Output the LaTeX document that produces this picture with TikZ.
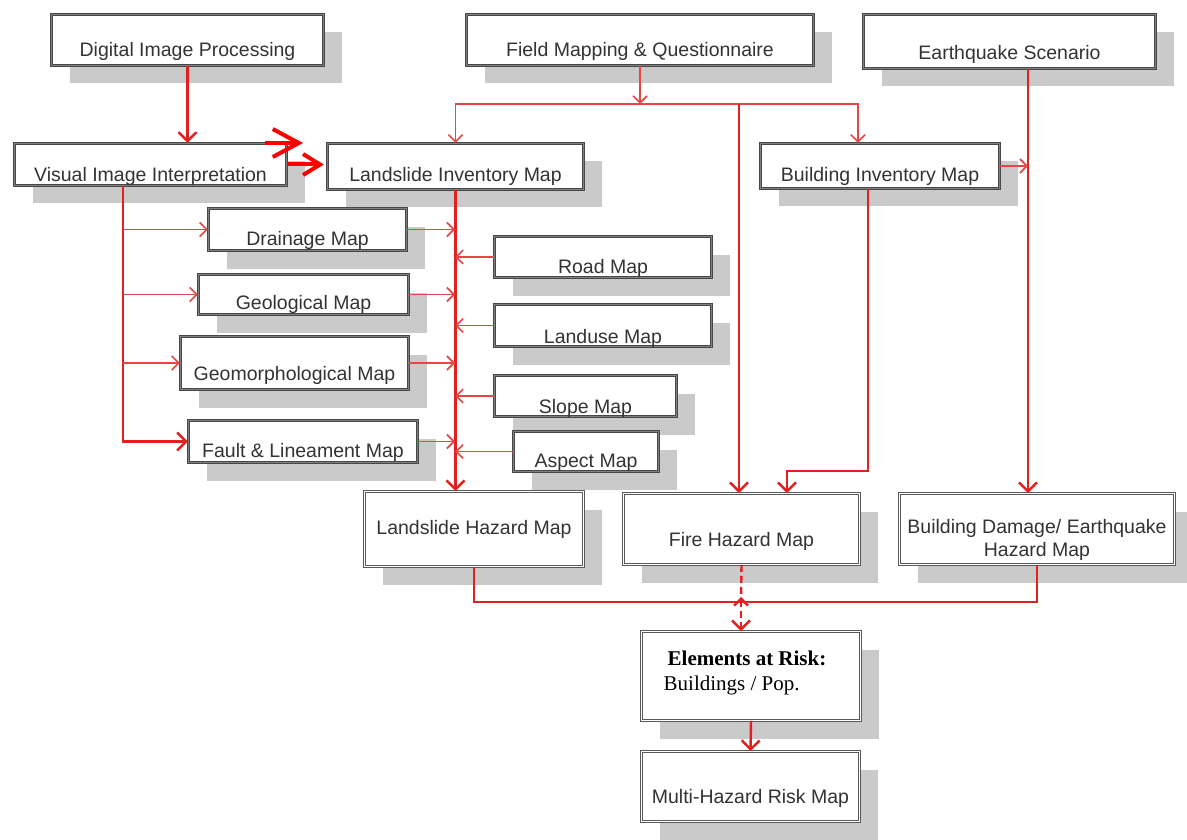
\documentclass[tikz,border=0pt]{standalone}
\usepackage{fontspec}
\setsansfont{Liberation Sans}
\newfontfamily\tnr{Liberation Serif}
\usetikzlibrary{arrows.meta,shadows}
\definecolor{rd}{RGB}{226,32,32}
\definecolor{rdl}{RGB}{230,70,70}
\definecolor{sh}{RGB}{202,202,202}
\begin{document}
\begin{tikzpicture}[x=1pt,y=-1pt,
  box/.style={rectangle, fill=white, draw=black!72, line width=1.3pt, double=black!50, double distance=1pt,
    inner sep=0pt, text depth=0pt, font=\sffamily\fontsize{19.5}{23}\selectfont, text=black!80,
    drop shadow={shadow xshift=18pt, shadow yshift=-18pt, fill=sh, opacity=1}},
  hbox/.style={box, draw=black!65, double=white, double distance=1.6pt, line width=0.9pt},
  thk/.style={draw=rd, line width=2.4pt, -{Straight Barb[length=9pt,width=18pt]}},
  thkline/.style={draw=rd, line width=2.4pt},
  thn/.style={draw=rdl, line width=1.6pt, -{Straight Barb[length=7pt,width=14pt]}},
  thnline/.style={draw=rdl, line width=1.6pt},
  bigone/.style={draw=red, line width=4pt, -{Straight Barb[length=26pt,width=28pt]}},
  bigtwo/.style={draw=red, line width=4pt, -{Straight Barb[length=17pt,width=21pt]}}
]
\useasboundingbox (0,0) rectangle (1187,840);

% boxes
\node[box, minimum width=272pt, minimum height=51pt, text height=34pt] (dip) at (187.5,40) {Digital Image Processing};
\node[box, minimum width=347pt, minimum height=51pt, text height=34pt] (fmq) at (640,40) {Field Mapping \& Questionnaire};
\node[box, minimum width=292pt, minimum height=54pt, text height=37pt] (eqs) at (1009.5,41.5) {Earthquake Scenario};
\node[box, minimum width=272pt, minimum height=42pt, text height=35pt] (vii) at (150.5,164.5) {Visual Image Interpretation};
\node[box, minimum width=256pt, minimum height=46pt, text height=31pt] (lim) at (455.5,166.5) {Landslide Inventory Map};
\node[box, minimum width=239pt, minimum height=45pt, text height=32pt] (bim) at (880,166) {Building Inventory Map};
\node[box, minimum width=198pt, minimum height=42pt, text height=31pt] (drain) at (307.5,229.5) {Drainage Map};
\node[box, minimum width=217pt, minimum height=41pt, text height=32pt] (road) at (603,257) {Road Map};
\node[box, minimum width=210pt, minimum height=40pt, text height=29pt] (geo) at (303.5,294.5) {Geological Map};
\node[box, minimum width=217pt, minimum height=42pt, text height=35pt] (landuse) at (603,325.5) {Landuse Map};
\node[box, minimum width=228pt, minimum height=53pt, text height=34pt] (geom) at (294.5,363) {Geomorphological Map};
\node[box, minimum width=182pt, minimum height=41pt, text height=34pt] (slope) at (585.5,396) {Slope Map};
\node[box, minimum width=229pt, minimum height=42pt, text height=31pt] (fault) at (303,441.5) {Fault \& Lineament Map};
\node[box, minimum width=145pt, minimum height=40pt, text height=31pt] (aspect) at (586,451.5) {Aspect Map};
\node[hbox, minimum width=219pt, minimum height=75pt, text height=10pt] (lhm) at (474,529) {Landslide Hazard Map};
\node[hbox, minimum width=236pt, minimum height=71pt, text height=34pt] (fhm) at (741.5,529) {Fire Hazard Map};
\node[hbox, minimum width=275pt, minimum height=71pt, text height=54pt] (bde) at (1037,529)
  {\begin{tabular}[b]{@{}c@{}}Building Damage/ Earthquake\\Hazard Map\end{tabular}};
\node[hbox, minimum width=219pt, minimum height=89pt, text height=28pt, font=\tnr\fontsize{21}{25}\selectfont, text=black] (er) at (751,676)
  {\begin{tabular}[b]{@{}l@{\hspace{12pt}}}\hspace*{4pt}\textbf{Elements at Risk:}\\Buildings / Pop.\end{tabular}};
\node[hbox, minimum width=218pt, minimum height=70pt, text height=33pt] (mhr) at (750.5,786.5) {Multi-Hazard Risk Map};

% helper coordinates
\coordinate (vx) at (123,0);
\coordinate (lx) at (455,0);
\coordinate (fmM) at (640,104);
\coordinate (fmR) at (858,104);
\coordinate (fmF) at (739,104);
\coordinate (ex) at (1028,0);
\coordinate (bx) at (868,0);
\coordinate (bturn) at (787,471);
\coordinate (jn) at (741,602);
\coordinate (ja) at (741,597);
\coordinate (c1a) at (265,143);
\coordinate (c1b) at (303,143);

% left column
\draw[thk] (dip.south) -- (dip.south |- vii.north);
\draw[thk] (vii.south -| vx) |- (fault.west);
\draw[thn] (vx |- drain.west) -- (drain.west);
\draw[thn] (vx |- geo.west) -- (geo.west);
\draw[thn] (vx |- geom.west) -- (geom.west);

% into landslide line
\draw[thk] (lim.south) -- (lim.south |- lhm.north);
\draw[thn] (drain.east) -- (lx |- drain.east);
\draw[thn] (geo.east) -- (lx |- geo.east);
\draw[thn] (geom.east) -- (lx |- geom.east);
\draw[thn] (fault.east) -- (lx |- fault.east);
\draw[thn] (road.west) -- (lx |- road.west);
\draw[thn] (landuse.west) -- (lx |- landuse.west);
\draw[thn] (slope.west) -- (lx |- slope.west);
\draw[thn] (aspect.west) -- (lx |- aspect.west);

% field mapping
\draw[thn] (fmq.south) -- (fmM);
\draw[thn] (fmM) -| (lim.north);
\draw[thn] (fmM) -| (fmR |- bim.north);
\draw[thk] (fmF) -- (fmF |- fhm.north);

% earthquake and building
\draw[thk] (eqs.south -| ex) -- (bde.north -| ex);
\draw[thn] (bim.east) -- (ex |- bim.east);
\draw[thk] (bim.south -| bx) |- (bturn) -- (bturn |- fhm.north);

% hazard to risk
\draw[thkline] (lhm.south) -- ++(0,35) -| (bde.south);
\draw[thkline, dash pattern=on 7pt off 4pt] (fhm.south) -- (jn);
\draw[thk, dash pattern=on 7pt off 4pt, {Straight Barb[length=7pt,width=14pt]}-{Straight Barb[length=9pt,width=18pt]}] (ja) -- (ja |- er.north);
\draw[thk] (er.south) -- (mhr.north);

% big red arrows
\draw[bigone] (c1a) -- (c1b);
\draw[bigtwo, shorten >=3pt] (vii.east) -- (vii.east -| lim.west);
\end{tikzpicture}
\end{document}
